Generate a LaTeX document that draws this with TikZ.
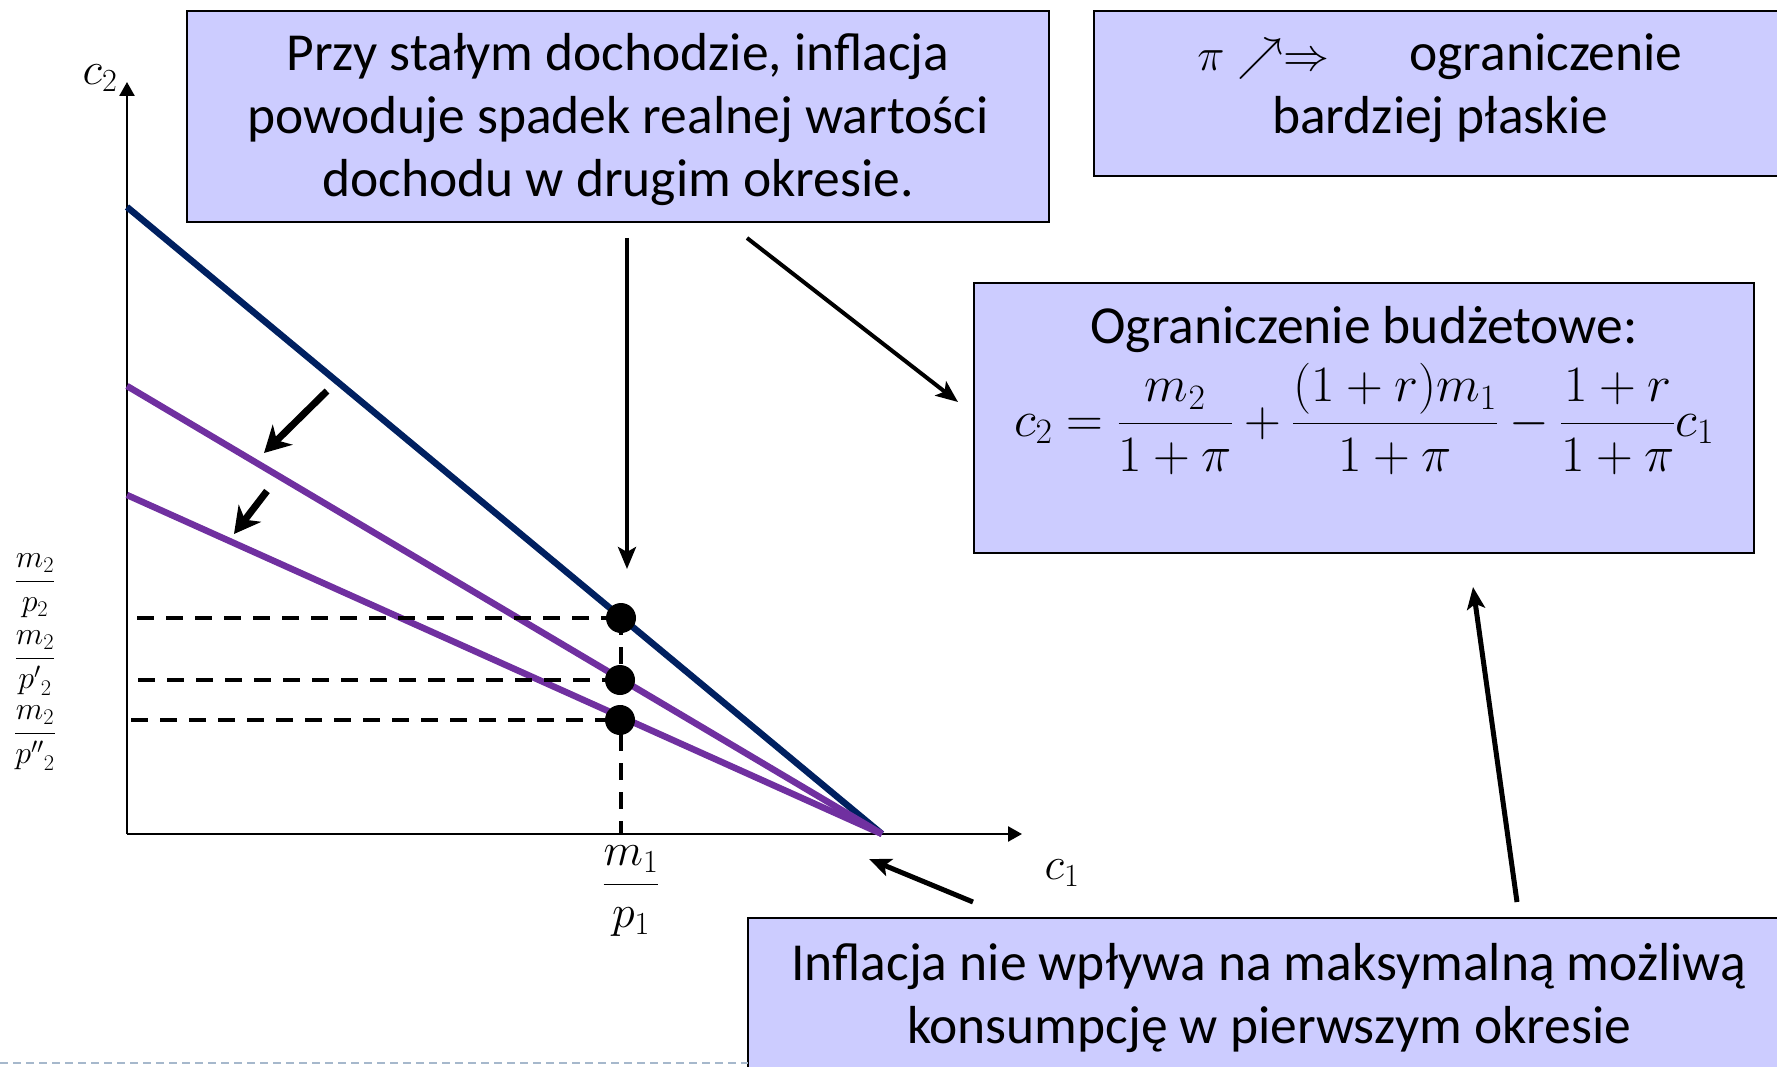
\RequirePackage{fix-cm}
\documentclass[tikz,border=0pt]{standalone}
\usepackage{amsmath}
\usepackage[no-math]{fontspec}
\setmainfont{Carlito}
\usetikzlibrary{arrows.meta}
\definecolor{navy}{HTML}{002060}
\definecolor{purp}{HTML}{7030A0}
\definecolor{boxfill}{HTML}{CCCCFF}
\definecolor{botline}{HTML}{A6B8CC}
\begin{document}
\begin{tikzpicture}[x=1pt,y=-1pt,
  box/.style={draw=black, line width=2pt, fill=boxfill, inner sep=0pt},
  txt/.style={font=\fontsize{53.5}{63}\selectfont, align=center},
  budget/.style={line width=6.5pt},
  guide/.style={line width=3.5pt, dash pattern=on 17pt off 12pt},
  dotn/.style={circle, fill=black, minimum size=30pt, inner sep=0pt},
  shiftarrow/.style={line width=7pt, -{Stealth[length=26pt,width=28pt,inset=8pt]}},
  callout/.style={line width=4pt, -{Stealth[length=22pt,width=18pt,inset=5pt]}},
  axisline/.style={line width=2.5pt, -{Triangle[length=14pt,width=15pt]}},
  lab/.style={font=\fontsize{46}{55}\selectfont, inner sep=0pt},
  ylab/.style={font=\fontsize{32}{38}\selectfont, inner sep=0pt}
]
\useasboundingbox (0,0) rectangle (1777,1067);
\clip (0,0) rectangle (1777,1067);

% axes
\coordinate (O) at (127,834);
\coordinate (ytop) at (127,82);
\coordinate (xend) at (1022,834);
\draw[axisline] (O) -- (ytop);
\draw[axisline] (O) -- (xend);

% budget lines
\coordinate (P) at (882,834);
\coordinate (A) at (127,207);
\coordinate (B) at (127,386);
\coordinate (C) at (127,495);
\draw[budget, navy] (A) -- (P);
\draw[budget, purp] (B) -- (P);
\draw[budget, purp] (C) -- (P);

% dots and guides
\coordinate (d1c) at (621,618);
\coordinate (d2c) at (620,680);
\coordinate (d3c) at (620,720);
\coordinate (g1) at (137,618);
\coordinate (g2) at (138,680);
\coordinate (g3) at (131,720);
\coordinate (gx) at (621,834);
\draw[guide] (g1) -- (d1c);
\draw[guide] (g2) -- (d2c);
\draw[guide] (g3) -- (d3c);
\draw[guide] (d1c) -- (gx);
\node[dotn] (d1) at (d1c) {};
\node[dotn] (d2) at (d2c) {};
\node[dotn] (d3) at (d3c) {};

% axis labels
\node[lab] (c2l) at (100,78) {$c_2$};
\node[lab] (c1l) at (1062,873) {$c_1$};
\node[lab] (m1l) at (631,891) {$\dfrac{m_1}{p_1}$};
\node[ylab] (y1l) at (35,586) {$\dfrac{m_2}{p_2}$};
\node[ylab] (y2l) at (35,663) {$\dfrac{m_2}{{p'}_2}$};
\node[ylab] (y3l) at (35,738) {$\dfrac{m_2}{{p''}_2}$};

% shift arrows
\coordinate (s1a) at (327,391);
\coordinate (s1b) at (264,453);
\coordinate (s2a) at (267,491);
\coordinate (s2b) at (234,534);
\draw[shiftarrow] (s1a) -- (s1b);
\draw[shiftarrow] (s2a) -- (s2b);

% boxes
\node[box, minimum width=862pt, minimum height=211pt] (b1) at (618,116.5) {};
\node[txt] (b1t) at (618,120)
  {Przy stałym dochodzie, inflacja\\powoduje spadek realnej wartości\\dochodu w drugim okresie.};
\node[box, minimum width=692pt, minimum height=165pt] (b2) at (1440,93.5) {};
\node[txt] (b2t) at (1440,88)
  {{\fontsize{46}{55}\selectfont$\pi\nearrow\Rightarrow$}\hspace{80pt}ograniczenie\\bardziej płaskie};
\node[box, minimum width=780pt, minimum height=270pt] (b3) at (1364,418) {};
\node[txt, anchor=base] (b3t) at (1364,343) {Ograniczenie budżetowe:};
\node[font=\fontsize{51}{60}\selectfont, inner sep=0pt] (b3f) at (1364,419)
  {$\displaystyle c_2=\frac{m_2}{1+\pi}+\frac{(1+r)m_1}{1+\pi}-\frac{1+r}{1+\pi}c_1$};
\node[box, minimum width=1042pt, minimum height=160pt] (b4) at (1269,998) {};
\node[txt] (b4t) at (1269,998)
  {Inflacja nie wpływa na maksymalną możliwą\\konsumpcję w pierwszym okresie};

% callout arrows
\coordinate (a1s) at (627,238);
\coordinate (a1e) at (627,569);
\coordinate (a2s) at (747,238);
\coordinate (a2e) at (958,402);
\coordinate (a3s) at (973,902);
\coordinate (a3e) at (869,859);
\coordinate (a4s) at (1517,902);
\coordinate (a4e) at (1473,587);
\draw[callout] (a1s) -- (a1e);
\draw[callout] (a2s) -- (a2e);
\draw[callout, line width=5pt] (a3s) -- (a3e);
\draw[callout, line width=5pt] (a4s) -- (a4e);

% bottom dashed rule
\coordinate (bl1) at (0,1063);
\coordinate (bl2) at (748,1063);
\draw[botline, line width=2pt, dash pattern=on 8pt off 5pt] (bl1) -- (bl2);
\end{tikzpicture}
\end{document}
